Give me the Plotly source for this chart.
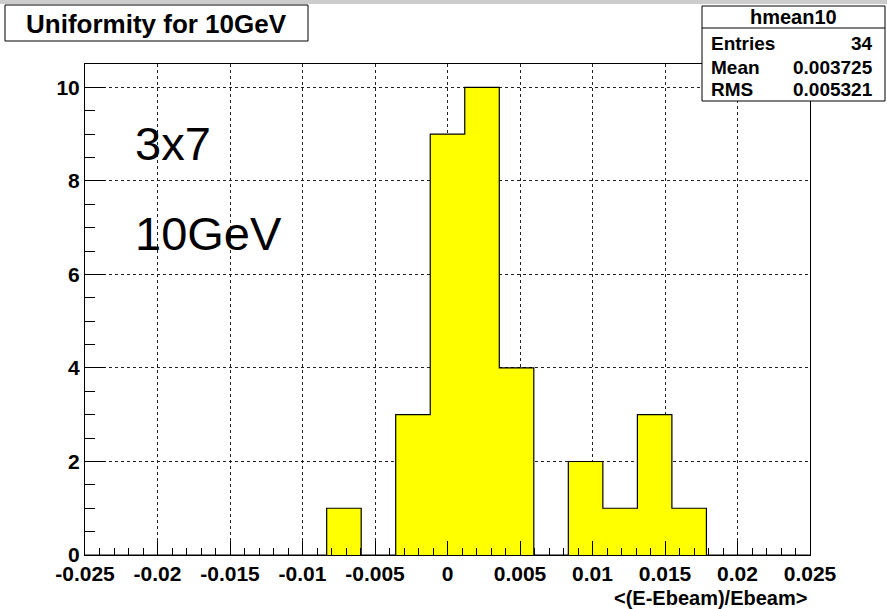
import plotly.graph_objects as go
import numpy as np

# ---- data ----
x_min, x_max, n_bins = -0.025, 0.025, 21
counts = [0, 0, 0, 0, 0, 0, 0, 1, 0, 3, 9, 10, 4, 0, 2, 1, 3, 1, 0, 0, 0]
x_tickvals = [-0.025, -0.02, -0.015, -0.01, -0.005, 0, 0.005, 0.01, 0.015, 0.02, 0.025]
x_ticktext = ["-0.025", "-0.02", "-0.015", "-0.01", "-0.005", "0", "0.005", "0.01", "0.015", "0.02", "0.025"]
y_tickvals = [0, 2, 4, 6, 8, 10]
hist_name = "hmean10"
stats_labels = ["Entries", "Mean", "RMS"]
stats_values = ["34", "0.003725", "0.005321"]
title_text = "Uniformity for 10GeV"
x_title = "<(E-Ebeam)/Ebeam>"
notes = ["3x7", "10GeV"]

edges = np.linspace(x_min, x_max, n_bins + 1)
xs = list(edges[:-1]) + [edges[-1]]
ys = list(counts) + [counts[-1]]

W, H = 887, 609
L, R, T, B = 85, 810, 64, 555


def px(x):
    return (x - L) / (R - L)


def py(y):
    return (B - y) / (B - T)


fig = go.Figure()
fig.add_trace(go.Scatter(
    x=[x_min] + xs, y=[0] + ys, mode="lines", line_shape="hv",
    line=dict(color="black", width=1.2), fill="tozeroy", fillcolor="#ffff00",
    hoverinfo="skip", showlegend=False))

font_b = dict(family="Liberation Sans, Arial, sans-serif", color="black", weight="bold")

fig.update_layout(
    width=W, height=H, margin=dict(l=L, r=W - R, t=T, b=H - B),
    paper_bgcolor="white", plot_bgcolor="white", showlegend=False,
    xaxis=dict(range=[x_min, x_max], tickvals=x_tickvals, ticktext=x_ticktext,
               ticks="inside", ticklen=14, tickwidth=1, tickcolor="black",
               minor=dict(dtick=0.001, tick0=0, ticks="inside", ticklen=7, tickcolor="black", showgrid=False),
               showgrid=True, gridcolor="#222222", griddash="dot", gridwidth=1,
               showline=True, linecolor="black", linewidth=1, mirror=True,
               zeroline=False, tickfont=dict(size=21, **font_b), ticklabelstandoff=0),
    yaxis=dict(range=[0, 10.5], tickvals=y_tickvals,
               ticks="inside", ticklen=20, tickwidth=1, tickcolor="black",
               minor=dict(dtick=0.5, tick0=0, ticks="inside", ticklen=10, tickcolor="black", showgrid=False),
               showgrid=True, gridcolor="#222222", griddash="dot", gridwidth=1,
               showline=True, linecolor="black", linewidth=1, mirror=True,
               zeroline=False, tickfont=dict(size=21, **font_b)),
)

shapes = []
# top grey strip
shapes.append(dict(type="rect", xref="paper", yref="paper", x0=px(0), x1=px(W), y0=py(0), y1=py(4),
                   fillcolor="#cccccc", line=dict(width=0), layer="above"))
# title box
shapes.append(dict(type="rect", xref="paper", yref="paper", x0=px(5), x1=px(308), y0=py(5), y1=py(41),
                   fillcolor="white", line=dict(color="black", width=1), layer="above"))
# stats box
shapes.append(dict(type="rect", xref="paper", yref="paper", x0=px(702), x1=px(885), y0=py(6), y1=py(101),
                   fillcolor="white", line=dict(color="black", width=1), layer="above"))
shapes.append(dict(type="line", xref="paper", yref="paper", x0=px(702), x1=px(885), y0=py(28), y1=py(28),
                   line=dict(color="black", width=1), layer="above"))
fig.update_layout(shapes=shapes)

ann = []
ann.append(dict(text=title_text, xref="paper", yref="paper", x=px(156), y=py(24), showarrow=False,
                xanchor="center", yanchor="middle", font=dict(size=26, **font_b)))
ann.append(dict(text=hist_name, xref="paper", yref="paper", x=px(793), y=py(17), showarrow=False,
                xanchor="center", yanchor="middle", font=dict(size=20, **font_b)))
row_y = [43, 67, 90]
for lab, val, yy in zip(stats_labels, stats_values, row_y):
    ann.append(dict(text=lab, xref="paper", yref="paper", x=px(709), y=py(yy), showarrow=False,
                    xanchor="left", yanchor="middle", font=dict(size=19, **font_b)))
    ann.append(dict(text=val, xref="paper", yref="paper", x=px(875), y=py(yy), showarrow=False,
                    xanchor="right", yanchor="middle", font=dict(size=19, **font_b)))
ann.append(dict(text=x_title, xref="paper", yref="paper", x=px(809), y=py(609), showarrow=False,
                xanchor="right", yanchor="bottom", yshift=-2, font=dict(size=20, **font_b)))
note_y = [143, 234]
for t, yy in zip(notes, note_y):
    ann.append(dict(text=t, xref="paper", yref="paper", x=px(133), y=py(yy), showarrow=False,
                    xanchor="left", yanchor="middle",
                    font=dict(size=47, family="Liberation Sans, Arial, sans-serif", color="black")))
fig.update_layout(annotations=ann)

fig.write_html("out.html")
